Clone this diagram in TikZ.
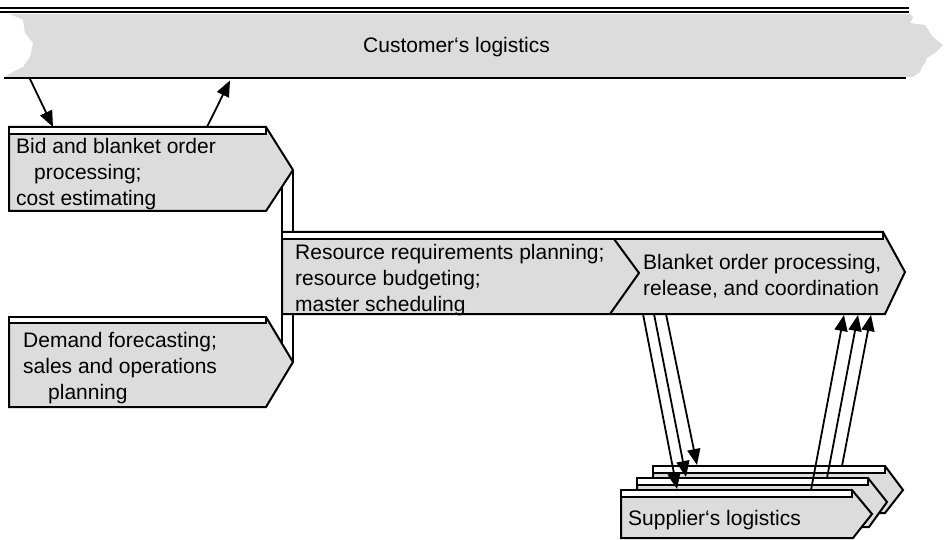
\documentclass[tikz,border=0pt]{standalone}
\usepackage{fontspec}
\setmainfont{Liberation Sans}
\usetikzlibrary{arrows.meta}
\definecolor{boxgrey}{RGB}{220,220,220}
\tikzset{
  boxshape/.style={fill=boxgrey, draw=black, line width=2pt, line join=miter},
  stripshape/.style={fill=white, draw=black, line width=2pt},
  lbl/.style={anchor=north west, inner sep=0pt, align=left, font=\fontsize{21}{26}\selectfont},
  conn/.style={draw=black, line width=1.8pt, -{Triangle[length=16pt,width=13pt]}},
  plainline/.style={draw=black, line width=2pt}
}
\begin{document}
\begin{tikzpicture}[x=1pt,y=-1pt]
\useasboundingbox (0,0) rectangle (945,540);
% ---- customer banner
\fill[boxgrey] (10,14) -- (910,14) -- (913,17) -- (910,23) -- (925,25) -- (933,37) -- (943,45) -- (935,53) -- (927,58) -- (925,63) -- (922,67) -- (920,72) -- (913,77) -- (5,77) -- (13,72) -- (23,67) -- (30,57) -- (33,43) -- (25,33) -- (23,20) -- cycle;
\draw[plainline] (0,8) -- (909,8);
\draw[plainline] (0,12.5) -- (909,12.5);
\draw[plainline] (4,78.5) -- (906,78.5);
\node[lbl, anchor=base west] (cust) at (363,53) {Customer‘s logistics};
\coordinate (custA) at (30,79);
\coordinate (custB) at (230,80.5);
% ---- bid box
\draw[boxshape] (9,127) -- (266,127) -- (293,170) -- (266,211) -- (9,211) -- cycle;
\draw[stripshape] (9,127) rectangle (266,134);
\node[lbl] (bid) at (16,134.8) {\strut Bid and blanket order\\\strut\hspace*{18pt}processing;\\\strut cost estimating};
\coordinate (bidIn) at (53,127);
\coordinate (bidOut) at (207,127);
\coordinate (bidTip) at (293,170);
\coordinate (bidSlant) at (282,187.5);
\draw[conn] (custA) -- (bidIn);
\draw[conn] (bidOut) -- (custB);
% ---- demand box
\draw[boxshape] (9,317) -- (266,317) -- (293,362) -- (266,407) -- (9,407) -- cycle;
\draw[stripshape] (9,317) rectangle (266,323);
\node[lbl] (dem) at (23,328.8) {\strut Demand forecasting;\\\strut sales and operations\\\strut\hspace*{25pt}planning};
\coordinate (demTip) at (293,362);
\coordinate (demSlant) at (282,343.5);
% ---- connecting lines
\draw[plainline] (bidTip) -- (demTip);
\draw[plainline] (bidSlant) -- (demSlant);
% ---- resource + blanket
\draw[boxshape] (282,232) -- (883,232) -- (905,272) -- (885,314) -- (282,314) -- cycle;
\draw[stripshape] (282,232) rectangle (883,239);
\draw[plainline, line join=miter] (614,239) -- (639,273) -- (610,314);
\node[lbl] (res) at (295,240.8) {\strut Resource requirements planning;\\\strut resource budgeting;\\\strut master scheduling};
\node[lbl] (blk) at (643,250.8) {\strut Blanket order processing,\\\strut release, and coordination};
% ---- supplier boxes
\draw[boxshape] (653,466) -- (885,466) -- (903,490) -- (885,513) -- (653,513) -- cycle;
\draw[stripshape] (653,466) rectangle (885,473);
\draw[boxshape] (637,478) -- (868,478) -- (887,502) -- (869,527) -- (637,527) -- cycle;
\draw[stripshape] (637,478) rectangle (868,485);
\draw[boxshape] (621,490) -- (852,490) -- (872,514) -- (853,538) -- (621,538) -- cycle;
\draw[stripshape] (621,490) rectangle (852,497);
\node[lbl, anchor=base west] (sup) at (628,525) {Supplier‘s logistics};
% ---- arrows between blanket and suppliers
\coordinate (d1s) at (643,314); \coordinate (d1e) at (677,489);
\coordinate (d2s) at (654,314); \coordinate (d2e) at (686,477);
\coordinate (d3s) at (666,314); \coordinate (d3e) at (697,465);
\coordinate (u1s) at (811,490); \coordinate (u1e) at (844,315);
\coordinate (u2s) at (827,478); \coordinate (u2e) at (858,315);
\coordinate (u3s) at (842,466); \coordinate (u3e) at (871,315);
\draw[conn] (d1s) -- (d1e);
\draw[conn] (d2s) -- (d2e);
\draw[conn] (d3s) -- (d3e);
\draw[conn] (u1s) -- (u1e);
\draw[conn] (u2s) -- (u2e);
\draw[conn] (u3s) -- (u3e);
\end{tikzpicture}
\end{document}
